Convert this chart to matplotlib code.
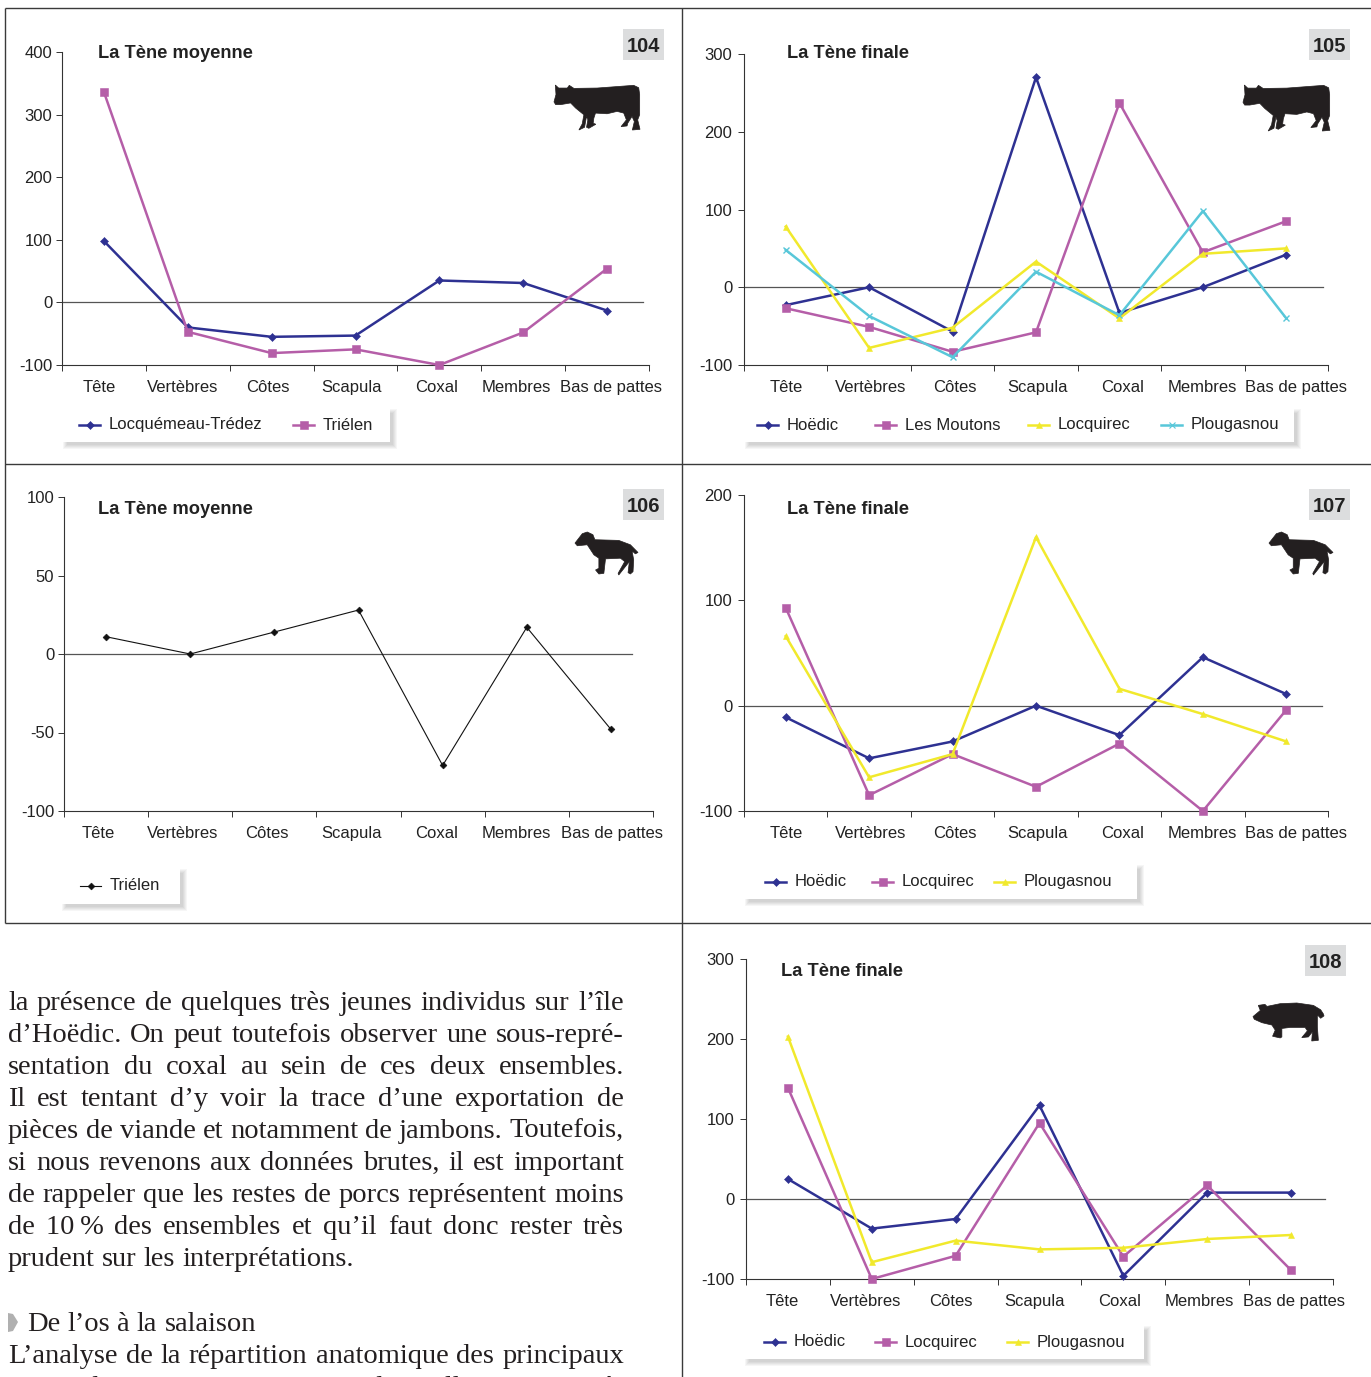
import matplotlib
matplotlib.use("Agg")
import matplotlib.pyplot as plt
from matplotlib.lines import Line2D
from matplotlib.patches import Polygon, Rectangle
from matplotlib.transforms import ScaledTranslation

W, H = 1371, 1377
plt.rcParams['font.family'] = ['Liberation Sans', 'DejaVu Sans']
plt.rcParams['axes.unicode_minus'] = False

categories = ["Tête", "Vertèbres", "Côtes", "Scapula", "Coxal", "Membres", "Bas de pattes"]

# panel 104
p104_locquemeau = [98, -40, -55, -53, 35, 31, -13]
p104_trielen = [336, -47, -81, -75, -100, -48, 54]
# panel 105
p105_hoedic = [-23, 0, -57, 270, -33, 0, 42]
p105_moutons = [-27, -51, -83, -58, 237, 45, 85]
p105_locquirec = [78, -78, -52, 33, -40, 43, 50]
p105_plougasnou = [48, -37, -90, 20, -36, 98, -40]
# panel 106
p106_trielen = [11, 0, 14, 28, -71, 17, -48]
# panel 107
p107_hoedic = [-11, -50, -34, 0, -28, 46, 11]
p107_locquirec = [93, -85, -46, -77, -36, -100, -4]
p107_plougasnou = [66, -68, -46, 160, 16, -8, -34]
# panel 108
p108_hoedic = [25, -37, -25, 117, -96, 8, 8]
p108_locquirec = [139, -100, -71, 95, -72, 17, -89]
p108_plougasnou = [203, -79, -52, -63, -61, -50, -45]

body_lines = [
    "la présence de quelques très jeunes individus sur l’île",
    "d’Hoëdic. On peut toutefois observer une sous-repré-",
    "sentation du coxal au sein de ces deux ensembles.",
    "Il est tentant d’y voir la trace d’une exportation de",
    "pièces de viande et notamment de jambons. Toutefois,",
    "si nous revenons aux données brutes, il est important",
    "de rappeler que les restes de porcs représentent moins",
    "de 10\u2009% des ensembles et qu’il faut donc rester très",
    "prudent sur les interprétations.",
]
heading = "De l’os à la salaison"
body_after = [
    "L’analyse de la répartition anatomique des principaux",
    "taxons domestiques montre ainsi d’excellentes quantités",
]

NAVY = "#2e3192"
MAGENTA = "#b55ea8"
YELLOW = "#f1e92c"
CYAN = "#58c7d9"
BLACK = "#111111"
STYLE = {
    "navy": (NAVY, "D", 4.0, 1.8),
    "magenta": (MAGENTA, "s", 5.5, 1.8),
    "yellow": (YELLOW, "^", 4.5, 1.8),
    "cyan": (CYAN, "x", 4.5, 1.8),
    "black": (BLACK, "D", 3.5, 0.8),
}

# silhouettes, traced by hand
cow = [(130,247),(136,225),(134,197),(144,206),(170,206),(176,198),(190,207),(260,206),(370,198),
       (385,205),(388,225),(388,285),(382,300),(389,328),(366,330),(372,305),(365,290),(352,310),
       (350,318),(332,320),(348,300),(340,280),(320,275),(290,282),(255,280),(250,295),(248,310),
       (256,313),(235,325),(228,322),(232,300),(228,290),(222,322),(205,330),(215,312),(220,285),
       (195,265),(180,250),(150,255),(135,255)]
pig = [(68,230),(90,212),(84,197),(104,194),(110,200),(150,192),(200,190),(250,197),(272,210),
       (280,222),(282,228),(272,235),(262,225),(262,260),(265,300),(245,302),(247,275),(235,290),
       (215,292),(232,272),(225,262),(180,262),(155,265),(155,290),(150,293),(127,288),(135,270),
       (125,255),(95,248),(72,238)]
calf = [(118,160),(140,132),(155,127),(172,135),(178,150),(250,152),(285,165),(308,188),(300,192),
        (290,183),(295,210),(293,245),(285,252),(278,248),(282,215),(250,255),(248,250),(268,215),
        (255,205),(210,207),(205,250),(190,252),(180,240),(190,235),(190,205),(175,195),(155,165),
        (125,168)]

label_shift = [-5, -5, -4, -4, -3, -7, 4]

panels = [
    dict(num="104", title="La Tène moyenne", tx=98, ty=53, box=(62, 649, 52, 365), top=400, step=100, zero_end=643,
         badge=(623, 29), animal=cow, abox=(554, 640, 85, 130), lab_dx=0, ypad=3,
         series=[("Locquémeau-Trédez", p104_locquemeau, "navy"), ("Triélen", p104_trielen, "magenta")],
         legend=(62, 390, 408, 442), handles=[79, 293]),
    dict(num="105", title="La Tène finale", tx=787, ty=53, box=(744, 1328, 54, 365), top=300, step=100, zero_end=1323,
         badge=(1309, 29), animal=cow, abox=(1243, 1330, 85, 131), lab_dx=6, ypad=4.5,
         series=[("Hoëdic", p105_hoedic, "navy"), ("Les Moutons", p105_moutons, "magenta"),
                 ("Locquirec", p105_locquirec, "yellow"), ("Plougasnou", p105_plougasnou, "cyan")],
         legend=(744, 1294, 408, 442), handles=[757, 875, 1028, 1161]),
    dict(num="106", title="La Tène moyenne", tx=98, ty=509, box=(64, 653, 497, 811), top=100, step=50, zero_end=632,
         badge=(623, 489), animal=calf, abox=(575, 638, 532, 575), lab_dx=-3, ypad=3,
         series=[("Triélen", p106_trielen, "black")],
         legend=(61, 180, 868, 904), handles=[80]),
    dict(num="107", title="La Tène finale", tx=787, ty=509, box=(744, 1328, 495, 811), top=200, step=100, zero_end=1322,
         badge=(1309, 489), animal=calf, abox=(1269, 1333, 532, 575), lab_dx=6, ypad=4.5,
         series=[("Hoëdic", p107_hoedic, "navy"), ("Locquirec", p107_locquirec, "magenta"),
                 ("Plougasnou", p107_plougasnou, "yellow")],
         legend=(744, 1137, 864, 899), handles=[765, 872, 994]),
    dict(num="108", title="La Tène finale", tx=781, ty=971, box=(746, 1333, 959, 1279), top=300, step=100, zero_end=1325,
         badge=(1305, 945), animal=pig, abox=(1253, 1324, 1003, 1041), lab_dx=-1, ypad=4.5,
         series=[("Hoëdic", p108_hoedic, "navy"), ("Locquirec", p108_locquirec, "magenta"),
                 ("Plougasnou", p108_plougasnou, "yellow")],
         legend=(744, 1144, 1325, 1359), handles=[764, 875, 1007]),
]

fig = plt.figure(figsize=(W / 100, H / 100), dpi=100, facecolor="white")

# overlay in picture pixels for page furniture
page = fig.add_axes([0, 0, 1, 1], zorder=5)
page.set_xlim(0, W)
page.set_ylim(H, 0)
page.axis("off")
page.patch.set_alpha(0)

for x0, x1, y0, y1 in [(5, 1371, 8, 8), (5, 1371, 464, 464), (5, 1371, 923, 923), (5, 5, 8, 923), (682, 682, 8, 1377)]:
    page.plot([x0, x1], [y0, y1], color="#3a3a3a", lw=1.0, solid_capstyle="butt")


def draw_panel(p):
    left, right, top, bottom = p["box"]
    ax = fig.add_axes([left / W, 1 - bottom / H, (right - left) / W, (bottom - top) / H])
    ax.set_xlim(-0.5, 6.5)
    ax.set_ylim(-100, p["top"])
    ax.patch.set_alpha(0)
    for side in ("top", "right"):
        ax.spines[side].set_visible(False)
    for side in ("left", "bottom"):
        ax.spines[side].set_color("#333333")
        ax.spines[side].set_linewidth(0.8)
    ax.set_yticks(list(range(-100, p["top"] + 1, p["step"])))
    ax.tick_params(axis="y", length=4, width=0.7, color="#333333", labelsize=12,
                   labelcolor="#222222", pad=p["ypad"])
    ax.set_xticks(range(len(categories)), categories)
    ax.tick_params(axis="x", which="major", length=0, labelsize=12, labelcolor="#222222", pad=11)
    ax.set_xticks([i - 0.5 for i in range(len(categories) + 1)], minor=True)
    ax.tick_params(axis="x", which="minor", length=4, width=0.7, color="#333333")
    for lab, dx in zip(ax.get_xticklabels(), label_shift):
        lab.set_transform(lab.get_transform() + ScaledTranslation((dx + p["lab_dx"]) / 100, 0, fig.dpi_scale_trans))

    frac = (p["zero_end"] - left) / (right - left)
    ax.axhline(0, xmax=frac, color="#555555", lw=0.9, zorder=1)

    for name, values, key in p["series"]:
        color, marker, ms, lw = STYLE[key]
        ax.plot(range(len(categories)), values, color=color, lw=lw, marker=marker, ms=ms,
                mew=1.0 if marker == "x" else 0.4, clip_on=False, zorder=3, label=name)

    page.text(p["tx"], p["ty"], p["title"], fontsize=13.15, fontweight="bold", va="center", ha="left", color="#222222")

    bx, by = p["badge"]
    page.add_patch(Rectangle((bx, by), 41, 31, fc="#dcddde", ec="none"))
    page.text(bx + 20.5, by + 17.5, p["num"], fontsize=14.5, fontweight="bold", va="center", ha="center", color="#222222")

    xs = [a for a, b in p["animal"]]
    ys = [b for a, b in p["animal"]]
    ax0, ax1, ay0, ay1 = p["abox"]
    pts = [(ax0 + (a - min(xs)) / (max(xs) - min(xs)) * (ax1 - ax0),
            ay0 + (b - min(ys)) / (max(ys) - min(ys)) * (ay1 - ay0)) for a, b in p["animal"]]
    page.add_patch(Polygon(pts, closed=True, fc="#231f20", ec="#231f20", lw=0.5))

    # legend box with a soft shadow, falling right and down only
    lx0, lx1, ly0, ly1 = p["legend"]
    for grow in range(0, 5):
        page.add_patch(Rectangle((lx0 + 5 - grow, ly0 + 5 - grow), lx1 - lx0 + 2 * grow - 2, ly1 - ly0 + 2 * grow - 2,
                                 fc="black", ec="none", alpha=0.035, zorder=2))
    page.add_patch(Rectangle((lx0, ly0), lx1 - lx0, ly1 - ly0, fc="white", ec="none", zorder=3))
    ymid = (ly0 + ly1) / 2
    for hx, (name, values, key) in zip(p["handles"], p["series"]):
        color, marker, ms, lw = STYLE[key]
        page.add_line(Line2D([hx, hx + 21], [ymid, ymid], color=color, lw=lw, zorder=4))
        page.plot([hx + 10.5], [ymid], color=color, marker=marker, ms=ms, mew=0.8 if marker == "x" else 0.4, zorder=4)
        page.text(hx + 30, ymid, name, fontsize=12, va="center", ha="left", color="#222222", zorder=4)


for p in panels:
    draw_panel(p)

page.set_xlim(0, W)
page.set_ylim(H, 0)

# body text, justified by hand
SERIF = "Liberation Serif"
BODY_SIZE = 20.5
renderer = fig.canvas.get_renderer()


def word_width(word):
    t = page.text(0, 0, word, family=SERIF, fontsize=BODY_SIZE)
    w = t.get_window_extent(renderer).width
    t.remove()
    return w


def put_line(line, x0, x1, base, justify=True):
    words = line.split(" ")
    widths = [word_width(w) for w in words]
    if justify and len(words) > 1:
        gap = (x1 - x0 - sum(widths)) / (len(words) - 1)
    else:
        gap = word_width("a a") - 2 * word_width("a")
    x = x0
    for w, ww in zip(words, widths):
        page.text(x, base, w, family=SERIF, fontsize=BODY_SIZE, va="baseline", ha="left", color="#231f20")
        x += ww + gap


base = 1010
for i, line in enumerate(body_lines):
    put_line(line, 8, 624, base + i * 32, justify=i < len(body_lines) - 1)

page.add_patch(Polygon([(8, 1313), (13, 1314), (18, 1322), (13, 1331), (8, 1332)], closed=True, fc="#b0b0b0", ec="none"))
put_line(heading, 27, 624, 1331, justify=False)
put_line(body_after[0], 8, 624, 1363)
put_line(body_after[1], 8, 624, 1395)

fig.savefig("out.png", dpi=100)
